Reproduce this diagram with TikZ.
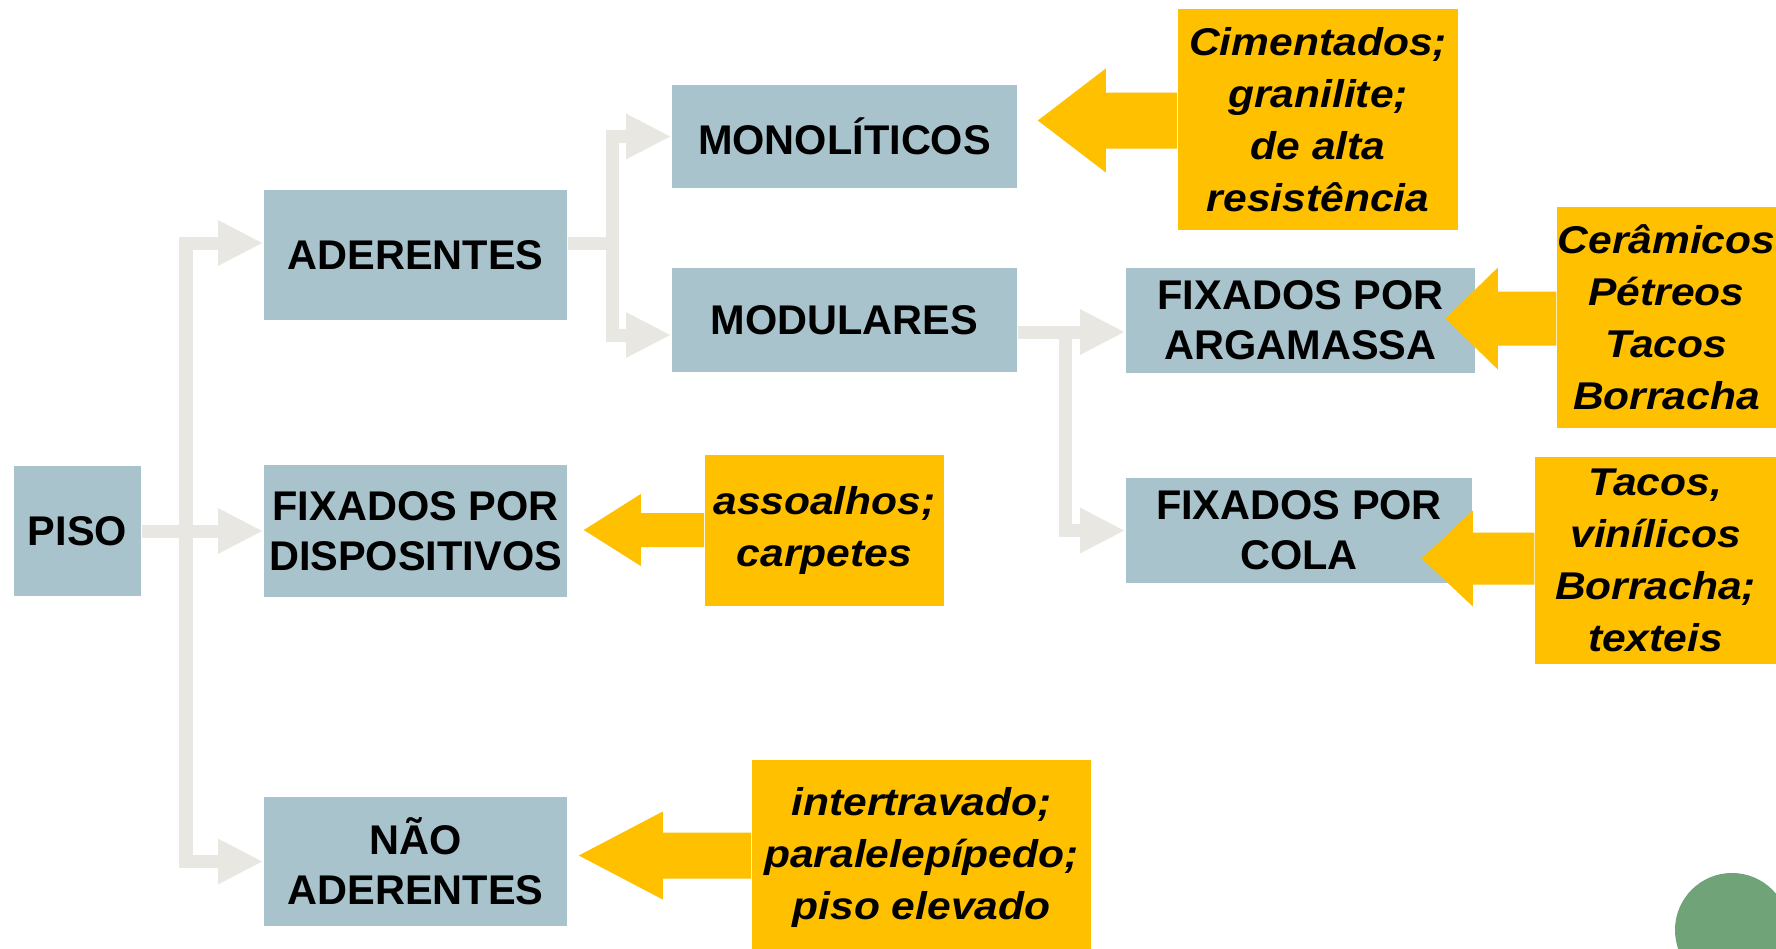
\documentclass[tikz,border=0pt]{standalone}
\usepackage{fontspec}
\setmainfont{Liberation Sans}
\newfontfamily\goldfont[FakeStretch=1.1]{Liberation Sans}
\usetikzlibrary{arrows.meta,calc}
\definecolor{pisoblue}{RGB}{168,195,204}
\definecolor{pisogold}{RGB}{255,192,0}
\definecolor{pisogray}{RGB}{233,231,226}
\definecolor{pisogreen}{RGB}{112,163,120}

% block arrow from a gold box back to its tip: #1 box, #2 tip, #3 head length, #4 head half width, #5 shaft half width
\newcommand{\goldarrow}[5]{%
  \coordinate (tip) at (#2);
  \fill[pisogold] (tip) -- ++(#3,-#4) -- ++(0,#4-#5) -- ($(#1.west |- tip)+(0,-#5)$)
    -- ($(#1.west |- tip)+(0,#5)$) -- ($(tip)+(#3,#5)$) -- ++(0,#4-#5) -- cycle;
}

\begin{document}
\begin{tikzpicture}[
  x=0.01cm, y=-0.01cm,
  every node/.style={inner sep=0pt, align=center},
  bluebox/.style={fill=pisoblue, font=\fontsize{11.8}{14.2}\selectfont\bfseries},
  goldbox/.style={fill=pisogold, font=\goldfont\fontsize{11}{14.8}\selectfont\bfseries\itshape},
  trunk/.style={draw=pisogray, line width=0.13cm},
  link/.style={trunk, -{Triangle[length=0.45cm,width=0.42cm]}},
]
\useasboundingbox (0,0) rectangle (1776,948);
\clip (0,0) rectangle (1776,948);
\fill[white] (0,0) rectangle (1776,948);

% Blue boxes
\node[bluebox, minimum width=1.27cm, minimum height=1.30cm] (piso) at (77.5,531) {PISO};
\node[bluebox, minimum width=3.03cm, minimum height=1.30cm] (aderentes) at (415.5,255) {ADERENTES};
\node[bluebox, minimum width=3.03cm, minimum height=1.31cm] (dispositivos) at (415.5,531) {FIXADOS POR\\DISPOSITIVOS};
\node[bluebox, minimum width=3.03cm, minimum height=1.29cm] (naoaderentes) at (415.5,861.5) {NÃO\\ADERENTES};
\node[bluebox, minimum width=3.45cm, minimum height=1.03cm] (monoliticos) at (844.5,136.5) {MONOLÍTICOS};
\node[bluebox, minimum width=3.45cm, minimum height=1.04cm] (modulares) at (844.5,320) {MODULARES};
\node[bluebox, minimum width=3.49cm, minimum height=1.05cm] (argamassa) at (1300.5,320.5) {FIXADOS POR\\ARGAMASSA};
\node[bluebox, minimum width=3.46cm, minimum height=1.05cm] (cola) at (1299,530.5) {FIXADOS POR\\COLA};

% Gold boxes
\node[goldbox, minimum width=2.80cm, minimum height=2.21cm] (cimentados) at (1318,119.5) {Cimentados;\\granilite;\\de alta\\resistência};
\node[goldbox, minimum width=2.19cm, minimum height=2.21cm] (ceramicos) at (1666.5,317.5) {Cerâmicos\\Pétreos\\Tacos\\Borracha};
\node[goldbox, minimum width=2.41cm, minimum height=2.07cm] (tacos) at (1655.5,560.5) {Tacos,\\vinílicos\\Borracha;\\texteis};
\node[goldbox, minimum width=2.39cm, minimum height=1.51cm] (assoalhos) at (824.5,530.5) {assoalhos;\\carpetes};
\node[goldbox, minimum width=3.39cm, minimum height=1.95cm] (intertravado) at (921.5,857.5) {intertravado;\\paralelepípedo;\\piso elevado};

% Gray links
\coordinate (j0) at (186,531);
\draw[trunk] (piso.east) -- (j0);
\draw[link] (j0) -- (dispositivos.west);
\draw[link] (j0) |- ($(aderentes.west)+(0,-12)$);
\draw[link] (j0) |- (naoaderentes.west);

\coordinate (j1) at (612,243);
\draw[trunk] ($(aderentes.east)+(0,-12)$) -- (j1);
\draw[link] (j1) |- (monoliticos.west);
\draw[link] (j1) |- ($(modulares.west)+(0,15)$);

\coordinate (j2) at (1065,332);
\draw[link] ($(modulares.east)+(0,12)$) -- (argamassa.west |- j2);
\draw[link] (j2) |- (cola.west);

% Gold arrows
\goldarrow{cimentados}{$(monoliticos.east)+(20,-16)$}{68}{52}{28}
\goldarrow{ceramicos}{$(argamassa.east)+(-30,-2)$}{52}{51}{27}
\goldarrow{tacos}{$(cola.east)+(-51,28)$}{51}{48}{26}
\goldarrow{assoalhos}{$(dispositivos.east)+(16,-1)$}{57}{36}{17}
\goldarrow{intertravado}{$(naoaderentes.east)+(11,-6)$}{84}{44}{23}

% Corner dot
\node[circle, fill=pisogreen, minimum size=1.14cm] (dot) at (1732,930) {};

\end{tikzpicture}
\end{document}
